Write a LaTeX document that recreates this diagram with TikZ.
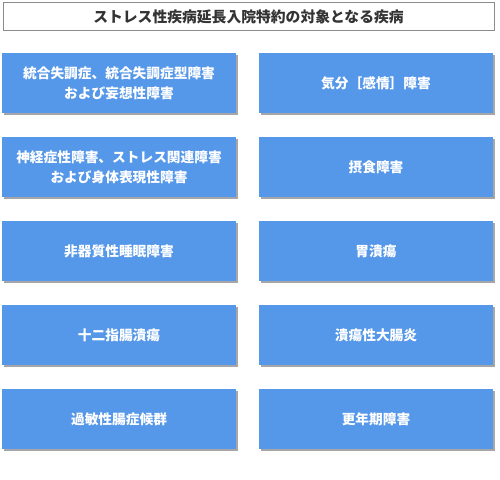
\documentclass[tikz,border=0pt]{standalone}
\usepackage{fontspec}
\setmainfont{Noto Sans CJK JP}
\usetikzlibrary{shadows}
\definecolor{boxblue}{HTML}{5597E8}
\definecolor{framegray}{HTML}{8C8C8C}
\definecolor{titletext}{HTML}{333333}
\begin{document}
\begin{tikzpicture}[x=1pt, y=-1pt,
    titlebox/.style={draw=framegray, line width=1pt, fill=white, minimum width=491pt, minimum height=28pt, inner sep=0pt, text=titletext, font=\fontsize{14.8}{16}\selectfont\bfseries},
    disease/.style={fill=boxblue, minimum width=234pt, minimum height=60pt, inner sep=0pt, align=center, text=white, font=\fontsize{13.7}{20}\selectfont\bfseries, drop shadow={shadow xshift=1.5pt, shadow yshift=-1.5pt, opacity=0.35, fill=black}}]
        \useasboundingbox (0,0) rectangle (500,479);
        \node[titlebox] (title) at (248.5,16.5) {ストレス性疾病延長入院特約の対象となる疾病};
        \node[disease] (schizo) at (119,83) {統合失調症、統合失調症型障害\\および妄想性障害};
        \node[disease] (mood) at (376,83) {気分［感情］障害};
        \node[disease] (neurosis) at (119,167) {神経症性障害、ストレス関連障害\\および身体表現性障害};
        \node[disease] (eating) at (376,167) {摂食障害};
        \node[disease] (sleep) at (119,251) {非器質性睡眠障害};
        \node[disease] (gastric) at (376,251) {胃潰瘍};
        \node[disease] (duodenal) at (119,335) {十二指腸潰瘍};
        \node[disease] (colitis) at (376,335) {潰瘍性大腸炎};
        \node[disease] (ibs) at (119,419) {過敏性腸症候群};
        \node[disease] (meno) at (376,419) {更年期障害};
    \end{tikzpicture}
\end{document}
